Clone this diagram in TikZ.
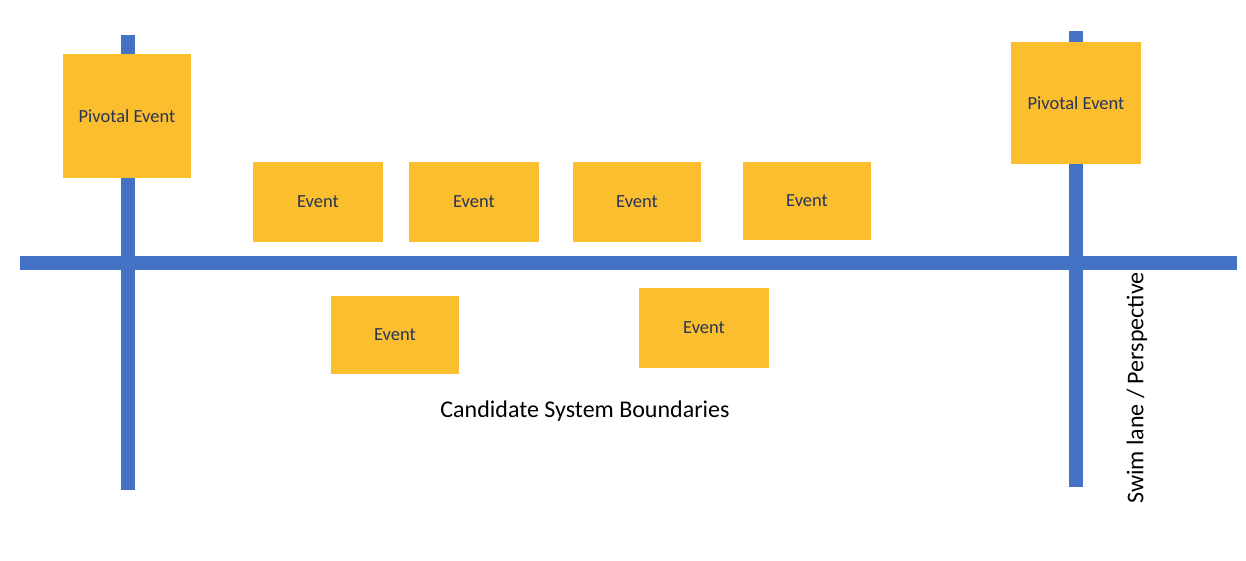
\documentclass[tikz,border=0pt]{standalone}
\usepackage{fontspec}
\setmainfont{Carlito}
\definecolor{barblue}{RGB}{68,114,196}
\definecolor{stickyyellow}{RGB}{251,190,46}
\definecolor{stickytext}{RGB}{40,52,88}
\begin{document}
\begin{tikzpicture}[x=1pt,y=-1pt,
  bar/.style={draw=barblue,line width=14pt},
  sticky/.style={rectangle,fill=stickyyellow,inner sep=0pt,text=stickytext,font=\fontsize{18.5}{22}\selectfont},
  pivotbox/.style={sticky,minimum width=129pt,minimum height=123pt},
  eventbox/.style={sticky,minimum width=129pt,minimum height=79pt},
  caption/.style={font=\fontsize{24}{29}\selectfont,text=black,inner sep=0pt}]
\useasboundingbox (0,0) rectangle (1246,560);
% bars
\coordinate (hl) at (20,263);
\coordinate (hr) at (1237,263);
\coordinate (lt) at (128,35);
\coordinate (lb) at (128,490);
\coordinate (rt) at (1076,31);
\coordinate (rb) at (1076,487);
\draw[bar] (hl) -- (hr);
\draw[bar] (lt) -- (lb);
\draw[bar] (rt) -- (rb);
% sticky notes
\node[pivotbox,minimum width=128pt,minimum height=124pt] (p1) at (127,116) {Pivotal Event};
\node[pivotbox,minimum width=130pt,minimum height=122pt] (p2) at (1076,103) {Pivotal Event};
\node[eventbox,minimum width=130pt,minimum height=80pt] (e1) at (318,202) {Event};
\node[eventbox,minimum width=130pt,minimum height=80pt] (e2) at (474,202) {Event};
\node[eventbox,minimum width=128pt,minimum height=80pt] (e3) at (637,202) {Event};
\node[eventbox,minimum width=128pt,minimum height=78pt] (e4) at (807,201) {Event};
\node[eventbox,minimum width=128pt,minimum height=78pt] (e5) at (395,335) {Event};
\node[eventbox,minimum width=130pt,minimum height=80pt] (e6) at (704,328) {Event};
% labels
\node[caption] (cap) at (585,411) {Candidate System Boundaries};
\node[caption,rotate=90] (swim) at (1137,388) {Swim lane / Perspective};
\end{tikzpicture}
\end{document}
